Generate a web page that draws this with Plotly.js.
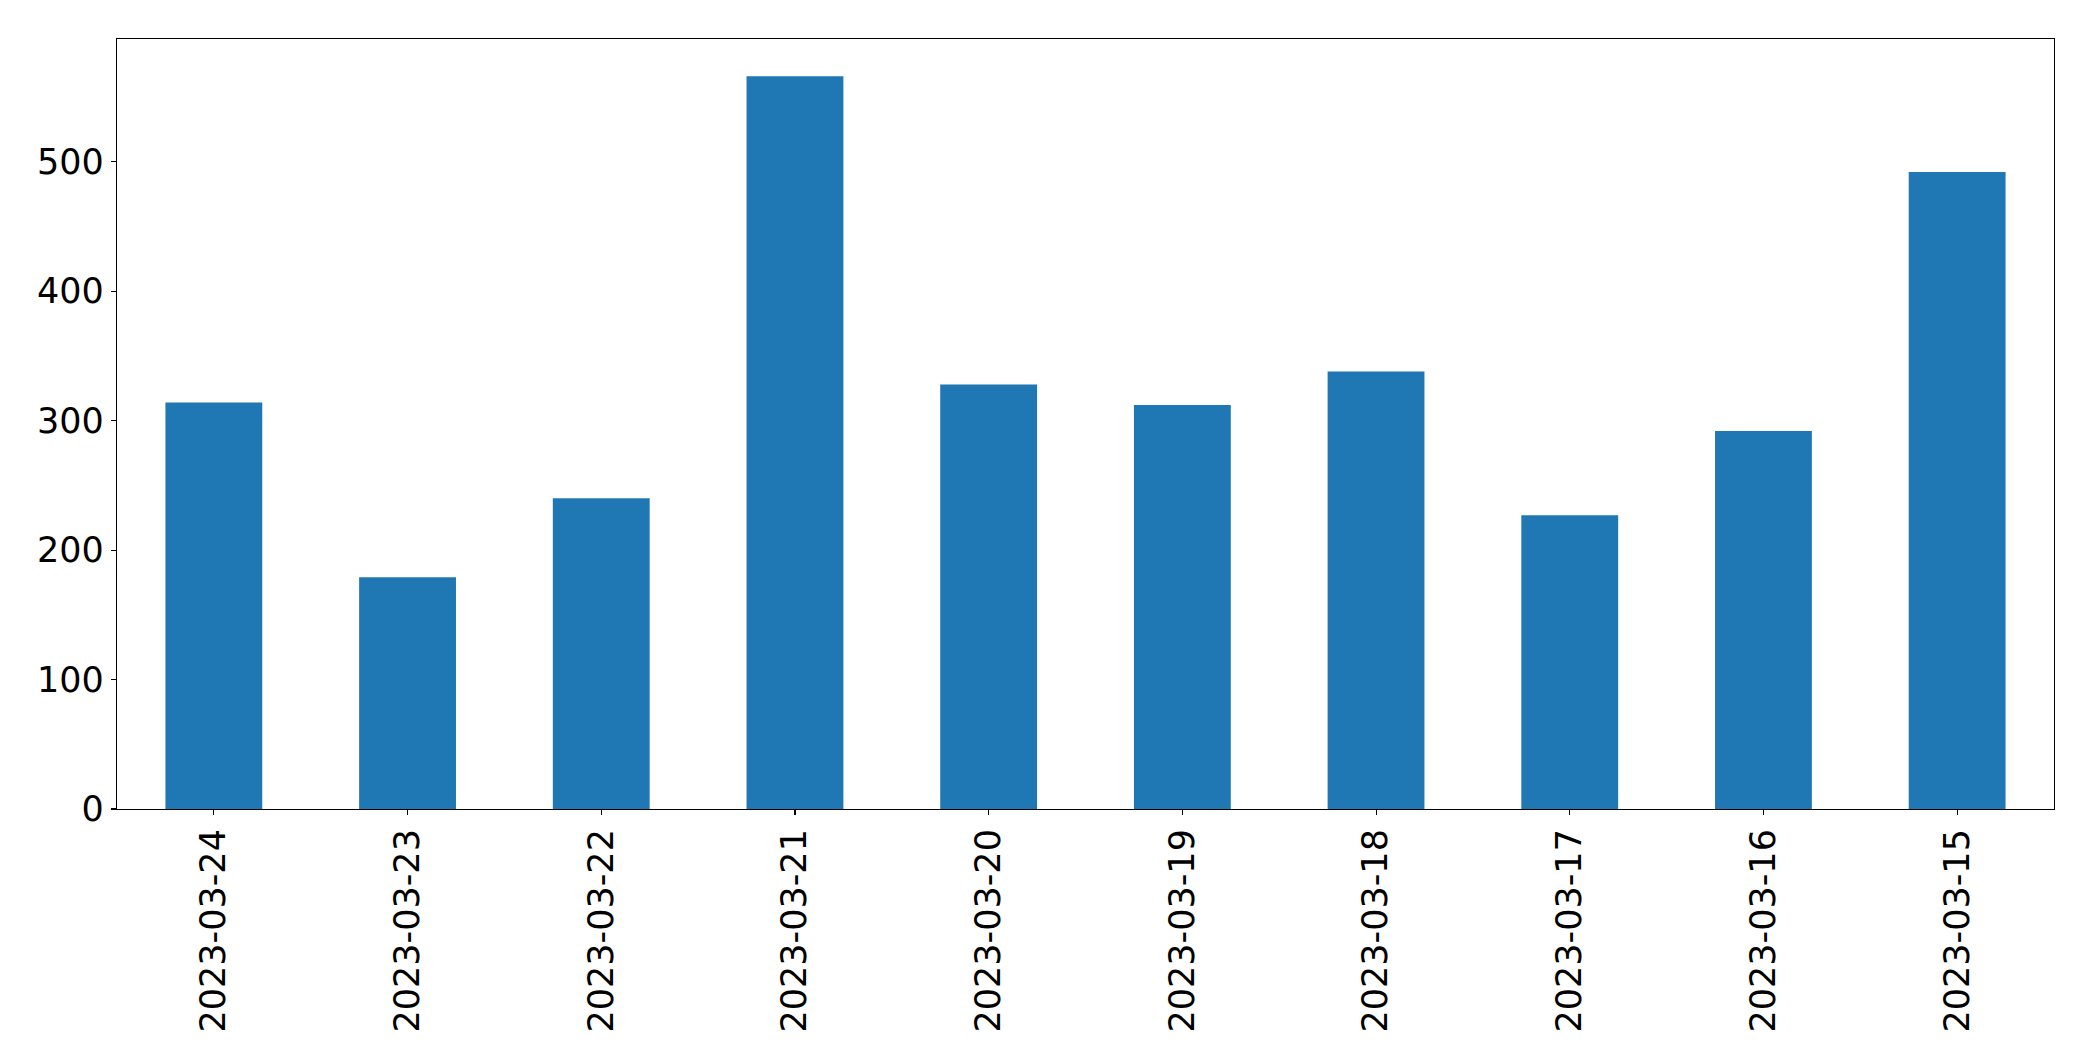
<!DOCTYPE html>
<html>
<head>
<meta charset="utf-8">
<script src="https://cdn.plot.ly/plotly-3.0.1.min.js"></script>
<style>html,body{margin:0;padding:0;background:#fff;}#chart{width:2093px;height:1061px;}</style>
</head>
<body>
<div id="chart"></div>
<script>
const dates = ["2023-03-24","2023-03-23","2023-03-22","2023-03-21","2023-03-20","2023-03-19","2023-03-18","2023-03-17","2023-03-16","2023-03-15"];
const counts = [314, 179, 240, 566, 328, 312, 338, 227, 292, 492];
const yTicks = [0, 100, 200, 300, 400, 500];

const trace = {
  type: "bar",
  x: dates,
  y: counts,
  width: 0.5,
  marker: {color: "#1f77b4", line: {width: 0}},
  hoverinfo: "x+y"
};

const axisCommon = {
  showline: true,
  linecolor: "#000",
  linewidth: 1.1,
  mirror: true,
  ticks: "outside",
  ticklen: 5,
  tickwidth: 1.1,
  tickcolor: "#000",
  showgrid: false,
  zeroline: false,
  tickfont: {family: "DejaVu Sans", size: 35, color: "#000"}
};

const layout = {
  width: 2093,
  height: 1061,
  margin: {l: 116.5, r: 39.3, t: 39.3, b: 252, pad: 0},
  paper_bgcolor: "#fff",
  plot_bgcolor: "#fff",
  showlegend: false,
  xaxis: Object.assign({}, axisCommon, {
    type: "category",
    range: [-0.5, 9.5],
    tickangle: -90,
    categoryorder: "array",
    categoryarray: dates
  }),
  yaxis: Object.assign({}, axisCommon, {
    range: [0, 594.8],
    tickvals: yTicks,
    ticktext: yTicks.map(String)
  })
};

Plotly.newPlot("chart", [trace], layout, {displayModeBar: false, staticPlot: true});
</script>
</body>
</html>
